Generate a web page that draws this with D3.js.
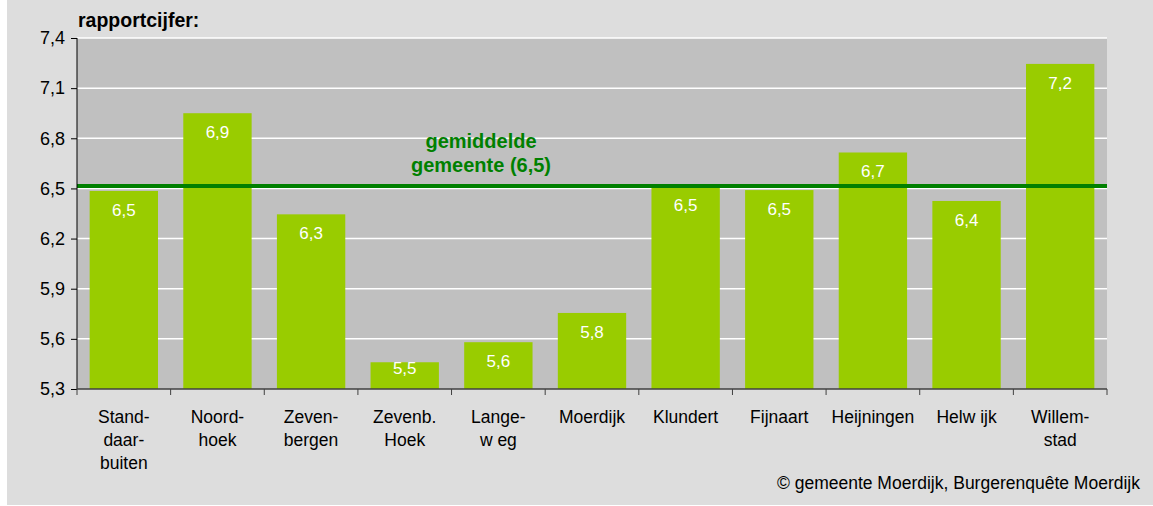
<!DOCTYPE html>
<html>
<head>
<meta charset="utf-8">
<script src="https://cdn.jsdelivr.net/npm/d3@7"></script>
<style>
  body { margin: 0; background: #ffffff; }
  text { font-family: "Liberation Sans", Arial, sans-serif; }
</style>
</head>
<body>
<div id="graph"></div>
<script>
// categories (label lines) and scores
var categories = [
    ["Stand-", "daar-", "buiten"],
    ["Noord-", "hoek"],
    ["Zeven-", "bergen"],
    ["Zevenb.", "Hoek"],
    ["Lange-", "w eg"],
    ["Moerdijk"],
    ["Klundert"],
    ["Fijnaart"],
    ["Heijningen"],
    ["Helw ijk"],
    ["Willem-", "stad"]
];
var scores = [6.485, 6.95, 6.345, 5.46, 5.58, 5.755, 6.515, 6.49, 6.715, 6.425, 7.245];
var barLabels = ["6,5", "6,9", "6,3", "5,5", "5,6", "5,8", "6,5", "6,5", "6,7", "6,4", "7,2"];
var yTicks = [5.3, 5.6, 5.9, 6.2, 6.5, 6.8, 7.1, 7.4];
var average = 6.515;

window.onload = start;

function start() {
    var width = 1153;
    var height = 506;
    var margin = {left: 77, right: 46, top: 38, bottom: 117};

    var svg = d3.select("#graph")
        .append("svg")
        .attr("width", width)
        .attr("height", height);

    // outer grey panel
    svg.append("rect")
        .attr("x", 7).attr("y", 0)
        .attr("width", width - 7).attr("height", 505)
        .attr("fill", "#dddddd");

    var x = d3.scaleBand()
        .domain(d3.range(categories.length))
        .range([margin.left, width - margin.right])
        .paddingInner(0.27)
        .paddingOuter(0.135);

    var y = d3.scaleLinear()
        .domain([5.3, 7.4])
        .range([height - margin.bottom, margin.top]);

    // plot area
    svg.append("rect")
        .attr("x", margin.left).attr("y", margin.top)
        .attr("width", width - margin.right - margin.left)
        .attr("height", height - margin.bottom - margin.top)
        .attr("fill", "#c0c0c0");

    // gridlines
    svg.append("g")
        .selectAll("line")
        .data(yTicks.slice(1))
        .enter()
        .append("line")
        .attr("x1", margin.left).attr("x2", width - margin.right)
        .attr("y1", function(d) { return y(d); })
        .attr("y2", function(d) { return y(d); })
        .attr("stroke", "#ffffff")
        .attr("stroke-width", 1.5);

    // bars
    svg.append("g")
        .selectAll("rect")
        .data(scores)
        .enter()
        .append("rect")
        .attr("x", function(d, i) { return x(i); })
        .attr("y", function(d) { return y(d); })
        .attr("width", x.bandwidth())
        .attr("height", function(d) { return y(5.3) - y(d); })
        .attr("fill", "#99cc00");

    // value labels (pushed up when the bar is too short)
    svg.append("g")
        .selectAll("text")
        .data(scores)
        .enter()
        .append("text")
        .attr("x", function(d, i) { return x(i) + x.bandwidth() / 2; })
        .attr("y", function(d) { return Math.min(y(d) + 25, y(5.3) - 15); })
        .attr("text-anchor", "middle")
        .attr("font-size", 17)
        .attr("fill", "#ffffff")
        .text(function(d, i) { return barLabels[i]; });

    // average line
    svg.append("line")
        .attr("x1", margin.left).attr("x2", width - margin.right)
        .attr("y1", y(average)).attr("y2", y(average))
        .attr("stroke", "#008000")
        .attr("stroke-width", 4);

    var avgText = svg.append("text")
        .attr("text-anchor", "middle")
        .attr("font-size", 20)
        .attr("font-weight", "bold")
        .attr("fill", "#008000");
    avgText.append("tspan").attr("x", 481).attr("y", 148).text("gemiddelde");
    avgText.append("tspan").attr("x", 481).attr("y", 172).text("gemeente (6,5)");

    // y axis
    var yAxis = svg.append("g")
        .attr("transform", "translate(" + margin.left + ",0)")
        .call(d3.axisLeft(y).tickValues(yTicks).tickSize(6).tickPadding(6)
            .tickFormat(function(d) { return d3.format(".1f")(d).replace(".", ","); }));
    yAxis.select(".domain").attr("stroke", "#000000").attr("d", "M0," + margin.top + "V" + (height - margin.bottom));
    yAxis.selectAll("text").attr("font-size", 18).attr("fill", "#000000")
        .style("font-family", "'Liberation Sans', Arial, sans-serif");

    // x axis with ticks at band boundaries
    var step = x.step();
    var x0 = margin.left;
    var xa = svg.append("g");
    xa.append("line")
        .attr("x1", margin.left).attr("x2", width - margin.right)
        .attr("y1", y(5.3)).attr("y2", y(5.3))
        .attr("stroke", "#404040").attr("stroke-width", 1.5);
    xa.selectAll(".tick")
        .data(d3.range(categories.length + 1))
        .enter()
        .append("line")
        .attr("x1", function(i) { return x0 + i * step; })
        .attr("x2", function(i) { return x0 + i * step; })
        .attr("y1", y(5.3)).attr("y2", y(5.3) + 6)
        .attr("stroke", "#404040");

    var catText = svg.append("g")
        .selectAll("text")
        .data(categories)
        .enter()
        .append("text")
        .attr("text-anchor", "middle")
        .attr("font-size", 17.5)
        .attr("fill", "#000000");
    catText.each(function(lines, i) {
        var t = d3.select(this);
        lines.forEach(function(l, k) {
            t.append("tspan")
                .attr("x", x(i) + x.bandwidth() / 2)
                .attr("y", 423 + k * 23)
                .text(l);
        });
    });

    // title and source
    svg.append("text")
        .attr("x", 78).attr("y", 27)
        .attr("font-size", 19.5)
        .attr("font-weight", "bold")
        .text("rapportcijfer:");

    svg.append("text")
        .attr("x", 1140).attr("y", 489)
        .attr("text-anchor", "end")
        .attr("font-size", 17.5)
        .text("© gemeente Moerdijk, Burgerenquête Moerdijk");
}
</script>
</body>
</html>
